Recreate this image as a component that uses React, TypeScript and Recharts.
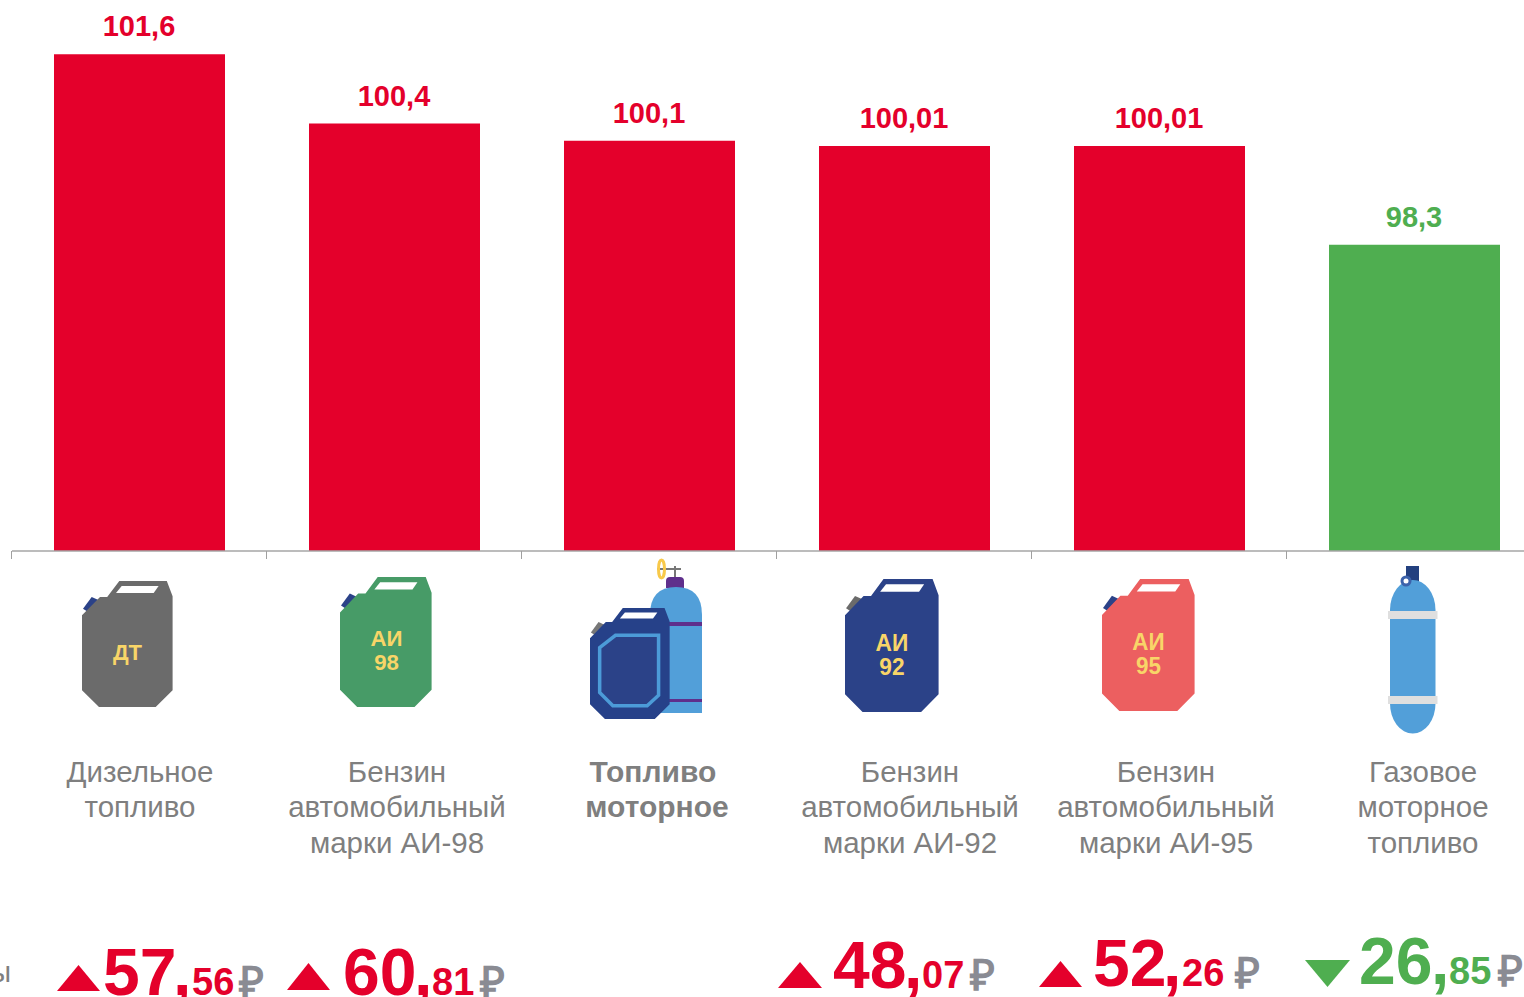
import { BarChart, Bar, XAxis, YAxis, Cell, LabelList } from "recharts";

const RED = "#e4002b";
const GREEN = "#4fae50";
const GREY_TEXT = "#7f7f7f";
const RUB_GREY = "#8a8b93";
const YELLOW = "#f8d568";
const BLUE = "#2b4288";
const SKY = "#529fd9";
const FONT = '"Liberation Sans", Arial, sans-serif';

const AXIS_Y = 551;

const categories = [
  "Дизельное топливо",
  "Бензин автомобильный марки АИ-98",
  "Топливо моторное",
  "Бензин автомобильный марки АИ-92",
  "Бензин автомобильный марки АИ-95",
  "Газовое моторное топливо",
];
const indexValues = [101.6, 100.4, 100.1, 100.01, 100.01, 98.3];
const indexLabels = ["101,6", "100,4", "100,1", "100,01", "100,01", "98,3"];
const barColors = [RED, RED, RED, RED, RED, GREEN];

const categoryLines = [
  ["Дизельное", "топливо"],
  ["Бензин", "автомобильный", "марки АИ-98"],
  ["Топливо", "моторное"],
  ["Бензин", "автомобильный", "марки АИ-92"],
  ["Бензин", "автомобильный", "марки АИ-95"],
  ["Газовое", "моторное", "топливо"],
];
const labelCenters = [140, 397, 655, 910, 1166, 1423];
const labelBaselines = [782, 817, 853];
const boldNudge = [-2, 2];

const priceWhole = ["57", "60", null, "48", "52", "26"];
const priceFrac = ["56", "81", null, "07", "26", "85"];
const priceUp = [true, true, null, true, true, false];

// arrow left, arrow right, arrow top, arrow bottom, whole x, comma x, frac x, rub x, baseline
const priceLayout = [
  [57, 100, 965, 991, 103, 173, 192, 239, 995],
  [287, 330, 963, 990, 343, 414, 432, 480, 995],
  null,
  [778, 822, 962, 988, 833, 904, 922, 970, 988],
  [1039, 1082, 961, 987, 1093, 1163, 1182, 1235, 986],
  [1305, 1350, 960, 987, 1359, 1431, 1449, 1498, 984],
];

const chartData = categories.map((name, i) => ({ name, value: indexValues[i] }));

function Canister({ x, y, w, h, body, cap, lines, textY, textX, inner }: any) {
  return (
    <g transform={`translate(${x} ${y}) scale(${w / 91} ${h / 126})`}>
      <polygon points="1,27.7 9.7,16 17,19.3 7.3,31.7" fill={cap} />
      <polygon
        points="37.3,0 84.8,0 90.6,15.3 90.6,109.3 73.7,126 17,126 0,109.3 0,34.3 18,16 25.2,16"
        fill={body}
      />
      <polygon points="39.7,5 76.6,5 71.7,12 34,12" fill="#fff" />
      {inner && (
        <polygon
          points="11,45 29,31 78,31 78,99 65,111 26,111 11,96"
          fill={BLUE}
          stroke="#4c9bd8"
          strokeWidth={4}
        />
      )}
      {lines.map((t: string, i: number) => (
        <text
          key={t}
          x={textX}
          y={textY[i]}
          textAnchor="middle"
          fontFamily={FONT}
          fontWeight="bold"
          fontSize={22}
          fill={YELLOW}
        >
          {t}
        </text>
      ))}
    </g>
  );
}

function Icon({ index }: { index: number }) {
  if (index === 0) {
    return (
      <Canister x={82} y={581} w={91} h={126} body="#6b6b6b" cap={BLUE} lines={["ДТ"]} textX={45.5} textY={[79]} />
    );
  }
  if (index === 1) {
    return (
      <Canister x={340} y={577} w={92} h={130} body="#479b67" cap={BLUE} lines={["АИ", "98"]} textX={46} textY={[67, 90]} />
    );
  }
  if (index === 2) {
    return (
      <g>
        <line x1={675} y1={566} x2={675} y2={578} stroke="#777" strokeWidth={2} />
        <line x1={657} y1={569} x2={681} y2={569} stroke="#777" strokeWidth={2} />
        <ellipse cx={661.5} cy={569} rx={3} ry={9} fill="none" stroke="#f8c94a" strokeWidth={3} />
        <path d="M666 588 V581 Q666 577 670 577 H680 Q684 577 684 581 V588 Z" fill="#5f2f8c" />
        <path d="M650 713 V615 Q650 587 676 587 Q702 587 702 615 V713 Z" fill={SKY} />
        <rect x={668} y={622} width={34} height={4} fill="#5f2f8c" />
        <rect x={668} y={699} width={34} height={3} fill="#5f2f8c" />
        <Canister x={590} y={608} w={80} h={111} body="#264189" cap="#777" lines={[]} inner />
      </g>
    );
  }
  if (index === 3) {
    return (
      <Canister x={845} y={579} w={94} h={133} body={BLUE} cap="#6b6b6b" lines={["АИ", "92"]} textX={45.5} textY={[68, 91]} />
    );
  }
  if (index === 4) {
    return (
      <Canister x={1102} y={579} w={93} h={132} body="#ec5f60" cap={BLUE} lines={["АИ", "95"]} textX={45.5} textY={[68, 91]} />
    );
  }
  return (
    <g>
      <rect x={1406} y={566} width={13} height={17} fill="#23407f" />
      <rect x={1390} y={580} width={45.5} height={153.5} rx={22.7} ry={30} fill={SKY} />
      <circle cx={1406} cy={581} r={5.5} fill="#3c62ab" />
      <circle cx={1406} cy={581} r={2.5} fill="#fff" />
      <rect x={1388} y={611} width={49.5} height={8} fill="#dfdfdf" />
      <rect x={1388} y={696} width={49.5} height={8} fill="#dfdfdf" />
    </g>
  );
}

function Price({ index }: { index: number }) {
  const layout = priceLayout[index];
  if (!layout) return null;
  const [left, right, top, bottom, wholeX, commaX, fracX, rubX, base] = layout;
  const up = priceUp[index];
  const color = up ? RED : GREEN;
  const mid = (left + right) / 2;
  const arrow = up
    ? `${left},${bottom} ${right},${bottom} ${mid},${top}`
    : `${left},${top} ${right},${top} ${mid},${bottom}`;
  return (
    <g fontFamily={FONT} fontWeight="bold">
      <polygon points={arrow} fill={color} />
      <text x={wholeX} y={base} fontSize={66} fill={color}>{priceWhole[index]}</text>
      <text x={commaX} y={base} fontSize={66} fill={color}>,</text>
      <text x={fracX} y={base} fontSize={38} fill={color}>{priceFrac[index]}</text>
      <text x={rubX} y={base + 2} fontSize={43} fill={RUB_GREY}>₽</text>
    </g>
  );
}

function CategoryTick({ x, index }: any) {
  const bold = index === 2;
  return (
    <g>
      <line x1={x - 128} y1={AXIS_Y} x2={x - 128} y2={AXIS_Y + 8} stroke="#a0a0a0" strokeWidth={1} />
      <Icon index={index} />
      {categoryLines[index].map((line, i) => (
        <text
          key={line}
          x={labelCenters[index] + (bold ? boldNudge[i] : 0)}
          y={labelBaselines[i]}
          textAnchor="middle"
          fontFamily={FONT}
          fontSize={bold ? 30 : 29.5}
          fontWeight={bold ? "bold" : "normal"}
          fill={GREY_TEXT}
        >
          {line}
        </text>
      ))}
      <Price index={index} />
      {index === 0 && (
        <text x={11} y={982} textAnchor="end" fontFamily={FONT} fontSize={29} fill={GREY_TEXT}>
          цены
        </text>
      )}
    </g>
  );
}

function ValueLabel({ x, y, width, index }: any) {
  return (
    <text
      x={x + width / 2 - 0.5}
      y={y - 18}
      textAnchor="middle"
      fontFamily={FONT}
      fontWeight="bold"
      fontSize={29}
      fill={barColors[index]}
    >
      {indexLabels[index]}
    </text>
  );
}

export default function App() {
  return (
    <div style={{ position: "absolute", left: 0, top: 0, width: 1524, height: 997, overflow: "hidden", background: "#fff" }}>
      <BarChart
        width={1542}
        height={997}
        data={chartData}
        margin={{ top: 8, right: 0, bottom: 0, left: 12 }}
      >
        <YAxis hide domain={[93, 102.4]} />
        <XAxis
          dataKey="name"
          height={997 - AXIS_Y}
          interval={0}
          tickLine={false}
          axisLine={{ stroke: "#a6a6a6", strokeWidth: 1.5 }}
          tick={(props: any) => <CategoryTick {...props} />}
        />
        <Bar dataKey="value" barSize={171} isAnimationActive={false}>
          {chartData.map((d, i) => (
            <Cell key={d.name} fill={barColors[i]} />
          ))}
          <LabelList dataKey="value" content={(props: any) => <ValueLabel {...props} />} />
        </Bar>
      </BarChart>
    </div>
  );
}
